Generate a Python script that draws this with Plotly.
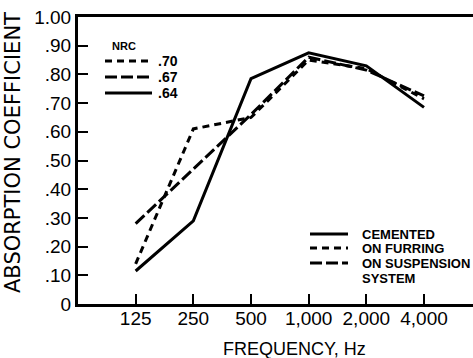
import plotly.graph_objects as go

freq_labels = ["125", "250", "500", "1,000", "2,000", "4,000"]
cemented = [0.115, 0.29, 0.785, 0.875, 0.83, 0.685]
furring = [0.14, 0.61, 0.65, 0.85, 0.82, 0.715]
suspension = [0.28, 0.47, 0.66, 0.86, 0.815, 0.725]
nrc_labels = [".70", ".67", ".64"]
legend_labels = ["CEMENTED", "ON FURRING", "ON SUSPENSION", "SYSTEM"]
y_ticks = [0, 0.1, 0.2, 0.3, 0.4, 0.5, 0.6, 0.7, 0.8, 0.9, 1.0]
y_ticktext = ["0", ".10", ".20", ".30", ".40", ".50", ".60", ".70", ".80", ".90", "1.00"]

W, H = 473, 358
L, T, B = 78, 17, 304
PW, PH = W - L, B - T

def px(x):
    return (x - L) / PW

def py(y):
    return (B - y) / PH

SANS = "Liberation Sans, Arial, sans-serif"
xs = list(range(len(freq_labels)))

fig = go.Figure()
fig.add_trace(go.Scatter(x=xs, y=cemented, mode="lines",
                         line=dict(color="black", width=3)))
fig.add_trace(go.Scatter(x=xs, y=furring, mode="lines",
                         line=dict(color="black", width=3, dash="7px,5px")))
fig.add_trace(go.Scatter(x=xs, y=suspension, mode="lines",
                         line=dict(color="black", width=3, dash="12px,4px")))

shapes = []
annotations = []

def note(x, y, text, size, xanchor="left", yanchor="middle", angle=0, family=SANS):
    annotations.append(dict(x=px(x), y=py(y), xref="paper", yref="paper", text=text,
                            xanchor=xanchor, yanchor=yanchor, textangle=angle,
                            showarrow=False, align="left",
                            font=dict(family=family, size=size, color="black")))

# NRC legend
note(124, 46, "<b>NRC</b>", 11, xanchor="center")
nrc_dashes = ["7px,5px", "12px,4px", "solid"]
nrc_y = [61, 77, 93]
for d, yy, lab in zip(nrc_dashes, nrc_y, nrc_labels):
    shapes.append(dict(type="line", xref="paper", yref="paper", x0=px(105), x1=px(152),
                       y0=py(yy), y1=py(yy), line=dict(color="black", width=3, dash=d)))
    note(156, yy, "<b>" + lab + "</b>", 14)

# bottom legend
leg_dashes = ["solid", "7px,5px", "12px,4px"]
leg_y = [234, 248, 263, 278]
for d, yy in zip(leg_dashes, leg_y):
    shapes.append(dict(type="line", xref="paper", yref="paper", x0=px(310), x1=px(348),
                       y0=py(yy), y1=py(yy), line=dict(color="black", width=3, dash=d)))
for yy, lab in zip(leg_y, legend_labels):
    note(360, yy, "<b>" + lab + "</b>", 13)

# axis titles
note(13, 153, "ABSORPTION COEFFICIENT", 21, xanchor="center", angle=-90,
     family="DejaVu Sans, sans-serif")
note(294, 349, "FREQUENCY, Hz", 18, xanchor="center")

fig.update_layout(
    width=W, height=H,
    margin=dict(l=L, r=0, t=T, b=H - B),
    paper_bgcolor="white", plot_bgcolor="white",
    showlegend=False,
    shapes=shapes, annotations=annotations,
    xaxis=dict(range=[-1.0, 5.85], tickvals=xs, ticktext=freq_labels,
               showgrid=False, zeroline=False, showline=True, linecolor="black", linewidth=3,
               mirror=True, ticks="inside", ticklen=10, tickwidth=2, tickcolor="black",
               ticklabelstandoff=-5,
               tickfont=dict(family=SANS, size=19, color="black")),
    yaxis=dict(range=[0, 1.0], tickvals=y_ticks, ticktext=y_ticktext,
               showgrid=False, zeroline=False, showline=True, linecolor="black", linewidth=3,
               ticks="inside", ticklen=10, tickwidth=2, tickcolor="black",
               tickfont=dict(family=SANS, size=19, color="black")),
)

fig.write_html("out.html")
